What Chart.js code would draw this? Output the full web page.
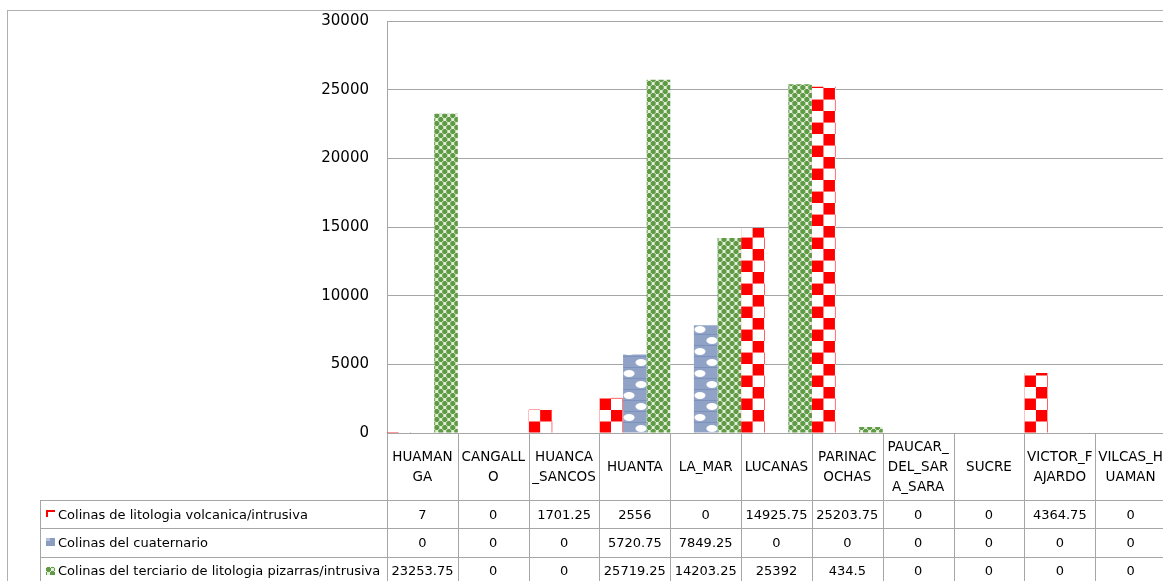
<!DOCTYPE html>
<html>
<head>
<meta charset="utf-8">
<title>Colinas por provincia</title>
<script src="https://cdn.jsdelivr.net/npm/chart.js@4/dist/chart.umd.min.js"></script>
<style>
  html, body { margin: 0; padding: 0; background: #fff; overflow: hidden; }
  #wrap { position: relative; width: 1163px; height: 581px; overflow: hidden; }
  canvas { display: block; }
</style>
</head>
<body>
<div id="wrap"><canvas id="chart" width="1168" height="581"></canvas></div>
<script>
// Provinces (categories) and the wrapped labels shown in the table header
const categories = ['HUAMANGA', 'CANGALLO', 'HUANCA_SANCOS', 'HUANTA', 'LA_MAR', 'LUCANAS',
  'PARINACOCHAS', 'PAUCAR_DEL_SARA_SARA', 'SUCRE', 'VICTOR_FAJARDO', 'VILCAS_HUAMAN'];
const headerLines = [
  ['HUAMAN', 'GA'], ['CANGALL', 'O'], ['HUANCA', '_SANCOS'], ['HUANTA'], ['LA_MAR'], ['LUCANAS'],
  ['PARINAC', 'OCHAS'], ['PAUCAR_', 'DEL_SAR', 'A_SARA'], ['SUCRE'], ['VICTOR_F', 'AJARDO'], ['VILCAS_H', 'UAMAN']
];

// Series names
const seriesNames = [
  'Colinas de litologia volcanica/intrusiva',
  'Colinas del cuaternario',
  'Colinas del terciario de litologia pizarras/intrusiva'
];

// Series values
const volcanica   = [7, 0, 1701.25, 2556, 0, 14925.75, 25203.75, 0, 0, 4364.75, 0];
const cuaternario = [0, 0, 0, 5720.75, 7849.25, 0, 0, 0, 0, 0, 0];
const terciario   = [23253.75, 0, 0, 25719.25, 14203.25, 25392, 434.5, 0, 0, 0, 0];

// Y axis ticks
const yTicks = [0, 5000, 10000, 15000, 20000, 25000, 30000];

const LINE = '#a6a6a6';
const FONT = '"DejaVu Sans", sans-serif';

// ---- fill tiles -------------------------------------------------------
function tile(w, h, draw) {
  const c = document.createElement('canvas');
  c.width = w; c.height = h;
  draw(c.getContext('2d'));
  return c;
}
// large red/white checkerboard
const redTile = tile(24, 24, g => {
  g.fillStyle = '#ffffff'; g.fillRect(0, 0, 24, 24);
  g.fillStyle = '#ff0000';
  g.fillRect(0, 12, 12, 12);
  g.fillRect(12, 0, 12, 12);
});
// blue "sphere" fill
const blueTile = tile(24, 22, g => {
  g.fillStyle = '#90a3c6'; g.fillRect(0, 0, 24, 22);
  g.fillStyle = '#ffffff';
  const blob = (x, y) => { g.beginPath(); g.ellipse(x, y, 5.5, 3.4, 0, 0, Math.PI * 2); g.fill(); };
  blob(6, 6.5); blob(18, 17.5); blob(-6, 17.5); blob(30, 17.5);
  g.fillStyle = '#7d92bb';
  g.fillRect(0, 0, 24, 1);
  g.fillRect(0, 11, 24, 1);
});
// small green crosses
const greenTile = tile(8, 8, g => {
  g.fillStyle = '#e3efdb'; g.fillRect(0, 0, 8, 8);
  g.fillStyle = '#5f9a45';
  const plus = (cx, cy) => {
    for (const dx of [-8, 0, 8]) for (const dy of [-8, 0, 8]) {
      g.fillRect(cx - 2 + dx, cy - 1 + dy, 5, 3);
      g.fillRect(cx - 1 + dx, cy - 2 + dy, 3, 5);
    }
  };
  plus(2, 2); plus(6, 6);
});
const tiles = [
  { img: redTile, scale: 23 / 24 },
  { img: blueTile, scale: 1 },
  { img: greenTile, scale: 1 }
];

// pattern anchored at each bar's lower-left corner
function barFill(ctx) {
  const chart = ctx.chart;
  const t = tiles[ctx.datasetIndex] || tiles[0];
  const p = chart.ctx.createPattern(t.img, 'repeat');
  const xs = chart.scales && chart.scales.x, ys = chart.scales && chart.scales.y;
  if (ctx.type === 'data' && xs && ys && xs.width > 0) {
    const catW = xs.width / categories.length;
    const x0 = xs.getPixelForValue(ctx.dataIndex) - catW / 2 + ctx.datasetIndex * catW / 3;
    const y0 = ys.getPixelForValue(0);
    p.setTransform(new DOMMatrix().translate(x0, y0).scale(t.scale));
  }
  return p;
}

// ---- frame and data table ---------------------------------------------
const framePlugin = {
  id: 'frame',
  beforeDraw(chart) {
    const g = chart.ctx;
    g.save();
    g.strokeStyle = '#b0b0b0';
    g.lineWidth = 1;
    g.strokeRect(7.5, 10.5, 2000, 2000);
    g.restore();
  }
};

const tablePlugin = {
  id: 'dataTable',
  afterDraw(chart) {
    const g = chart.ctx;
    const ca = chart.chartArea;
    const xs = chart.scales.x, ys = chart.scales.y;
    const n = categories.length;
    const catW = (ca.right - ca.left) / n;
    const top = ys.getPixelForValue(0);
    const headBottom = top + 67;
    const rowH = 28.3;
    const legendLeft = 40;
    const bottom = chart.height + 10;
    const series = [volcanica, cuaternario, terciario];

    g.save();
    g.strokeStyle = LINE;
    g.lineWidth = 1;
    g.beginPath();
    // column separators
    for (let i = 0; i <= n; i++) {
      const x = Math.round(ca.left + i * catW) + 0.5;
      g.moveTo(x, top); g.lineTo(x, bottom);
    }
    // row separators
    for (let r = 0; r < 3; r++) {
      const y = Math.round(headBottom + r * rowH) + 0.5;
      g.moveTo(legendLeft, y); g.lineTo(chart.width, y);
    }
    g.moveTo(legendLeft + 0.5, headBottom); g.lineTo(legendLeft + 0.5, bottom);
    g.stroke();

    // header labels
    g.fillStyle = '#000';
    g.textAlign = 'center';
    g.textBaseline = 'middle';
    g.font = '13.5px ' + FONT;
    const headMid = (top + headBottom) / 2 + 1;
    headerLines.forEach((lines, i) => {
      const cx = xs.getPixelForValue(i);
      const lh = 20;
      lines.forEach((s, k) => {
        g.fillText(s, cx, headMid + (k - (lines.length - 1) / 2) * lh);
      });
    });

    // values
    g.font = '13px ' + FONT;
    series.forEach((vals, r) => {
      const cy = headBottom + r * rowH + rowH / 2 + 1;
      vals.forEach((v, i) => g.fillText(String(v), xs.getPixelForValue(i), cy));
    });

    // row labels with keys
    g.textAlign = 'left';
    seriesNames.forEach((name, r) => {
      const cy = headBottom + r * rowH + rowH / 2;
      g.fillStyle = '#000';
      g.fillText(name, 58, cy + 1);
      const kx = 46, ky = Math.round(cy) - 4;
      if (r === 0) {
        g.fillStyle = '#ff0000';
        g.fillRect(kx, ky, 9, 2);
        g.fillRect(kx, ky, 2, 7);
      } else if (r === 1) {
        g.fillStyle = '#8a9cc0';
        g.fillRect(kx, ky, 9, 8);
        g.fillStyle = '#b4c0d8';
        g.fillRect(kx, ky, 4, 3);
      } else {
        const p = g.createPattern(greenTile, 'repeat');
        p.setTransform(new DOMMatrix().translate(kx, ky));
        g.fillStyle = p;
        g.fillRect(kx, ky, 9, 8);
      }
    });
    g.restore();
  }
};

new Chart(document.getElementById('chart'), {
  type: 'bar',
  data: {
    labels: categories,
    datasets: [
      { label: seriesNames[0], data: volcanica },
      { label: seriesNames[1], data: cuaternario },
      { label: seriesNames[2], data: terciario }
    ].map(d => Object.assign(d, {
      backgroundColor: barFill,
      borderWidth: 0,
      inflateAmount: 0,
      categoryPercentage: 1,
      barPercentage: 1
    }))
  },
  options: {
    responsive: false,
    devicePixelRatio: 1,
    animation: false,
    events: [],
    layout: { padding: { top: 21, right: 2, bottom: 148, left: 0 } },
    plugins: { legend: { display: false }, tooltip: { enabled: false } },
    scales: {
      x: { display: false },
      y: {
        min: yTicks[0],
        max: yTicks[yTicks.length - 1],
        afterBuildTicks(scale) { scale.ticks = yTicks.map(v => ({ value: v })); },
        afterFit(scale) {
          scale.width = 387;
          scale.paddingTop = 0;
          scale.paddingBottom = 0;
        },
        ticks: {
          padding: 18, color: '#000', font: { family: FONT, size: 15 },
          callback: v => String(v)
        },
        grid: { color: LINE, lineWidth: 1, drawTicks: false },
        border: { display: true, color: LINE, width: 1 }
      }
    }
  },
  plugins: [framePlugin, tablePlugin]
});
</script>
</body>
</html>
